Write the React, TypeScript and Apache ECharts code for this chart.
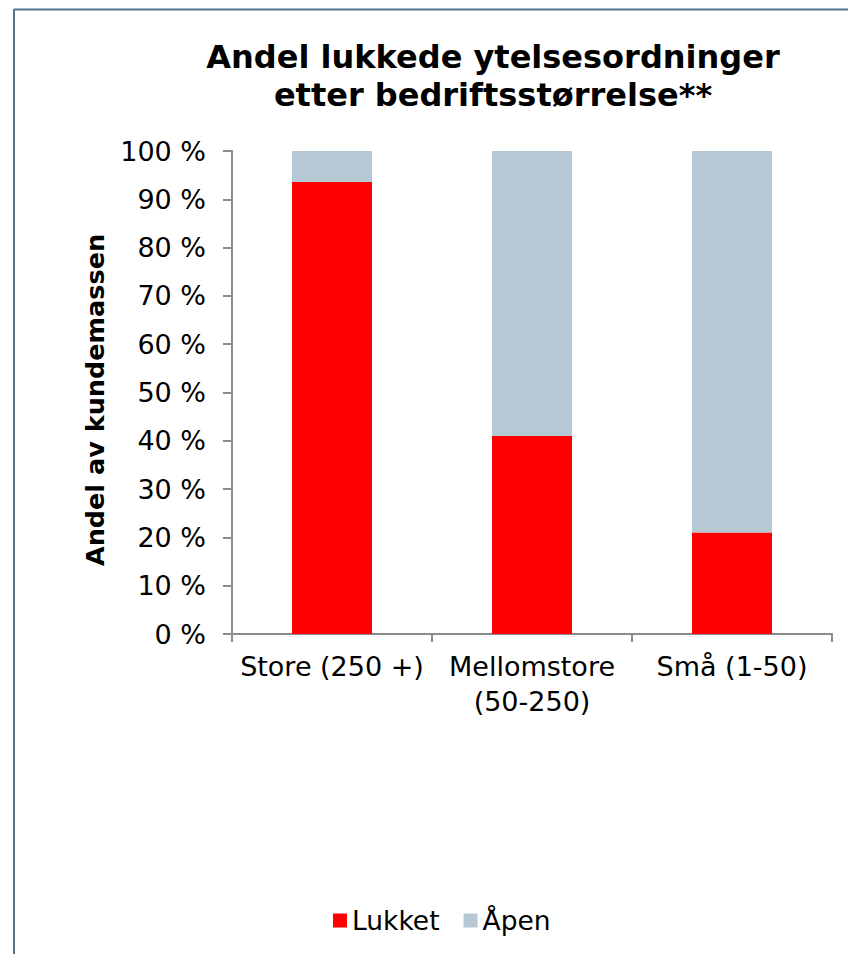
import React, { useEffect, useRef } from "react";
import * as echarts from "echarts";

const categories = ["Store (250 +)", "Mellomstore\n(50-250)", "Små (1-50)"];
const lukket = [93.6, 41, 21];
const apen = [6.4, 59, 79];
const yTicks = [0, 10, 20, 30, 40, 50, 60, 70, 80, 90, 100];
const titleText = "Andel lukkede ytelsesordninger\netter bedriftsstørrelse**";
const yAxisName = "Andel av kundemassen";

const FONT = "DejaVu Sans";

export default function App() {
  const ref = useRef<HTMLDivElement>(null);
  useEffect(() => {
    if (!ref.current) return;
    const chart = echarts.init(ref.current, undefined, { renderer: "svg" });
    chart.setOption({
      animation: false,
      backgroundColor: "#ffffff",
      textStyle: { fontFamily: FONT },
      title: {
        text: titleText,
        left: 488,
        top: 33,
        textAlign: "center",
        textStyle: {
          fontFamily: FONT,
          fontWeight: "bold",
          fontSize: 32,
          lineHeight: 38,
          color: "#000000",
        },
      },
      graphic: [
        {
          type: "line",
          shape: { x1: 14, y1: 9.5, x2: 848, y2: 9.5 },
          style: { stroke: "#4f7591", lineWidth: 2 },
        },
        {
          type: "line",
          shape: { x1: 14, y1: 9, x2: 14, y2: 954 },
          style: { stroke: "#4f7591", lineWidth: 2 },
        },
        {
          type: "text",
          x: 95,
          y: 400,
          rotation: Math.PI / 2,
          style: {
            text: yAxisName,
            fontFamily: FONT,
            fontWeight: "bold",
            fontSize: 25.5,
            fill: "#000000",
            textAlign: "center",
            textVerticalAlign: "middle",
          },
        },
      ],
      legend: {
        left: 328,
        top: 902,
        itemWidth: 14,
        itemHeight: 14,
        itemGap: 24,
        icon: "rect",
        textStyle: { fontFamily: FONT, fontSize: 26.5, color: "#000000" },
        data: ["Lukket", "Åpen"],
      },
      grid: { left: 232, right: 16, top: 151, bottom: 320, containLabel: false },
      xAxis: {
        type: "category",
        data: categories,
        axisLine: { lineStyle: { color: "#8c8c8c", width: 2 } },
        axisTick: { show: true, length: 8, alignWithLabel: false, lineStyle: { color: "#8c8c8c", width: 2 } },
        axisLabel: {
          fontFamily: FONT,
          fontSize: 27,
          lineHeight: 35,
          color: "#000000",
          margin: 15,
          interval: 0,
        },
      },
      yAxis: {
        type: "value",
        min: 0,
        max: 100,
        interval: 10,
        splitLine: { show: false },
        axisLine: { show: true, lineStyle: { color: "#8c8c8c", width: 2 } },
        axisTick: { show: true, length: 9, lineStyle: { color: "#8c8c8c", width: 2 } },
        axisLabel: {
          fontFamily: FONT,
          fontSize: 27,
          color: "#000000",
          margin: 26,
          formatter: (v: number) => (yTicks.includes(v) ? `${v} %` : ""),
        },
      },
      series: [
        {
          name: "Lukket",
          type: "bar",
          stack: "total",
          barWidth: "40%",
          data: lukket,
          itemStyle: { color: "#ff0000" },
        },
        {
          name: "Åpen",
          type: "bar",
          stack: "total",
          barWidth: "40%",
          data: apen,
          itemStyle: { color: "#b5c8d3" },
        },
      ],
    });
    return () => chart.dispose();
  }, []);
  return (
    <div
      ref={ref}
      style={{ position: "fixed", left: 0, top: 0, width: 848, height: 954 }}
    />
  );
}
